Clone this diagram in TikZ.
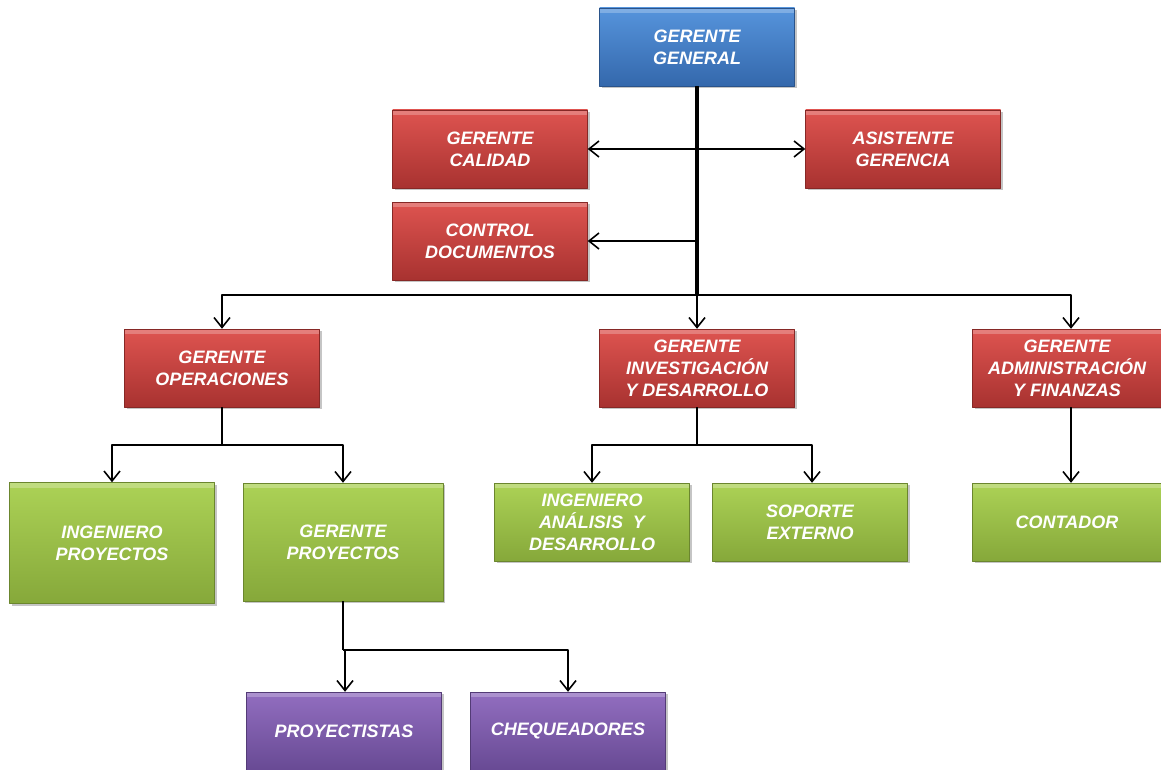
\documentclass[tikz,border=0pt]{standalone}
\usepackage{fontspec}
\setmainfont{Liberation Sans}
\usetikzlibrary{arrows.meta,shadows}

\definecolor{bluetop}{RGB}{86,148,220}
\definecolor{bluebot}{RGB}{52,104,172}
\definecolor{redtop}{RGB}{222,84,80}
\definecolor{redbot}{RGB}{168,50,48}
\definecolor{greentop}{RGB}{172,210,86}
\definecolor{greenbot}{RGB}{134,168,58}
\definecolor{purptop}{RGB}{146,110,192}
\definecolor{purpbot}{RGB}{104,74,148}

\begin{document}
\begin{tikzpicture}[x=1pt, y=-1pt,
    box/.style={rectangle, minimum width=195pt, minimum height=78pt, inner sep=2pt,
      text=white, align=center, font=\bfseries\itshape\fontsize{18}{22}\selectfont,
      drop shadow={shadow xshift=2pt, shadow yshift=-2pt, fill=black!45},
      path picture={\fill[white, opacity=0.25] (path picture bounding box.north west) rectangle ([yshift=-5pt]path picture bounding box.north east);}},
    bluebox/.style={box, top color=bluetop, bottom color=bluebot, draw=bluebot!80!black},
    redbox/.style={box, top color=redtop, bottom color=redbot, draw=redbot!80!black},
    greenbox/.style={box, top color=greentop, bottom color=greenbot, draw=greenbot!80!black},
    purpbox/.style={box, top color=purptop, bottom color=purpbot, draw=purpbot!80!black},
    link/.style={draw=black, line width=1.6pt},
    arr/.style={link, -{Straight Barb[length=10pt, width=16pt, line width=1.6pt]}},
    line join=round]

  \useasboundingbox (0,0) rectangle (1161,770);

  % nivel 1
  \node[bluebox] (gg) at (697,47) {GERENTE\\GENERAL};
  \node[redbox] (cal) at (490,149) {GERENTE\\CALIDAD};
  \node[redbox] (asis) at (903,149) {ASISTENTE\\GERENCIA};
  \node[redbox] (doc) at (490,241) {CONTROL\\DOCUMENTOS};

  % nivel 2
  \node[redbox] (ope) at (222,368) {GERENTE\\OPERACIONES};
  \node[redbox] (id) at (697,368) {GERENTE\\INVESTIGACIÓN\\Y DESARROLLO};
  \node[redbox, minimum width=189pt] (adm) at (1067,368) {GERENTE\\ADMINISTRACIÓN\\Y FINANZAS};

  % nivel 3
  \node[greenbox, minimum width=205pt, minimum height=121pt] (ingp) at (112,543) {INGENIERO\\PROYECTOS};
  \node[greenbox, minimum width=200pt, minimum height=118pt] (gerp) at (343,542) {GERENTE\\PROYECTOS};
  \node[greenbox] (inga) at (592,522) {INGENIERO\\ANÁLISIS~ Y\\DESARROLLO};
  \node[greenbox] (sop) at (810,522) {SOPORTE\\EXTERNO};
  \node[greenbox, minimum width=189pt] (cont) at (1067,522) {CONTADOR};

  % nivel 4
  \node[purpbox] (proy) at (344,731) {PROYECTISTAS};
  \node[purpbox] (cheq) at (568,731) {CHEQUEADORES};

  \coordinate (bus) at (697,295);
  \coordinate (b1) at (697,149);
  \coordinate (b2) at (697,241);

  \draw[link, line width=3.5pt] (gg.south) -- (bus);
  \draw[arr] (b1) -- (cal.east);
  \draw[arr] (b1) -- (asis.west);
  \draw[arr] (b2) -- (doc.east);
  \draw[arr] (bus) -| (ope.north);
  \draw[arr] (bus) -- (id.north);
  \draw[arr] (bus) -| ([xshift=4pt]adm.north);

  \coordinate (o1) at (222,445);
  \draw[link] (ope.south) -- (o1);
  \draw[arr] (o1) -| (ingp.north);
  \draw[arr] (o1) -| (gerp.north);

  \coordinate (i1) at (697,445);
  \draw[link] (id.south) -- (i1);
  \draw[arr] (i1) -| (inga.north);
  \draw[arr] (i1) -| ([xshift=2pt]sop.north);

  \draw[arr] ([xshift=4pt]adm.south) -- ([xshift=4pt]cont.north);

  \coordinate (g1) at (343,650);
  \draw[link] (gerp.south) -- (g1);
  \draw[arr] (g1) -| ([xshift=1pt]proy.north);
  \draw[arr] (g1) -| (cheq.north);
\end{tikzpicture}
\end{document}
